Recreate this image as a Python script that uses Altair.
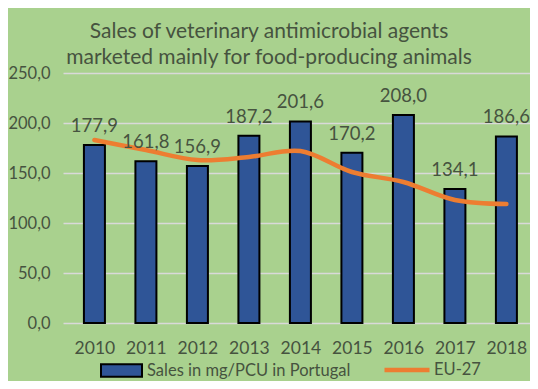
import altair as alt
import pandas as pd

years = [2010, 2011, 2012, 2013, 2014, 2015, 2016, 2017, 2018]
portugal = [177.9, 161.8, 156.9, 187.2, 201.6, 170.2, 208.0, 134.1, 186.6]
eu27 = [183, 173, 163, 166, 172, 151, 141, 123, 119]
y_ticks = [0, 50, 100, 150, 200, 250]
bar_name = "Sales in mg/PCU in Portugal"
line_name = "EU-27"
title_lines = ["Sales of veterinary antimicrobial agents",
               "marketed mainly for food-producing animals"]

TEXT = "#46533F"
FONT = "Lato"

df_bar = pd.DataFrame({"year": years, "value": portugal, "series": bar_name})
df_line = pd.DataFrame({"year": years, "value": eu27, "series": line_name})

xscale = alt.Scale(domain=[2009.487, 2018.361], nice=False, zero=False)
yscale = alt.Scale(domain=[0, 250], nice=False)

x_enc = alt.X("year:Q", scale=xscale,
              axis=alt.Axis(values=years, format="d", title=None, grid=False,
                            ticks=False, domain=False, labelPadding=16,
                            labelFontSize=17.5, labelFont=FONT, labelColor=TEXT))
y_enc = alt.Y("value:Q", scale=yscale,
              axis=alt.Axis(values=y_ticks, title=None, ticks=False, domain=False,
                            labelExpr="replace(format(datum.value, '.1f'), '.', ',')",
                            labelPadding=13, labelFontSize=16.5, labelFont=FONT,
                            labelColor=TEXT, gridColor="#D9D9D9", gridWidth=1.6))

bars = alt.Chart(df_bar).mark_bar(size=21, stroke="black", strokeWidth=2).encode(
    x=x_enc,
    y=y_enc,
    fill=alt.Fill("series:N",
                  scale=alt.Scale(domain=[bar_name], range=["#2F5597"]),
                  legend=alt.Legend(title=None, orient="none", legendX=37, legendY=276,
                                    symbolType="M-1,-0.3L1,-0.3L1,0.3L-1,0.3Z",
                                    symbolSize=1681, symbolStrokeColor="black",
                                    symbolStrokeWidth=2, labelOffset=4)),
)

line = alt.Chart(df_line).mark_line(strokeWidth=4.5, interpolate="catmull-rom",
                                    strokeCap="round").encode(
    x="year:Q",
    y="value:Q",
    stroke=alt.Stroke("series:N",
                      scale=alt.Scale(domain=[line_name], range=["#ED7D31"]),
                      legend=alt.Legend(title=None, orient="none", legendX=319, legendY=272,
                                        symbolType="stroke", symbolSize=2025,
                                        symbolStrokeWidth=4.5, labelOffset=2)),
)

labels = alt.Chart(df_bar).transform_calculate(
    label="replace(format(datum.value, '.1f'), '.', ',')"
).mark_text(baseline="middle", dy=-19, fontSize=18.5, font=FONT, color=TEXT).encode(
    x="year:Q",
    y="value:Q",
    text="label:N",
)

chart = alt.layer(bars, line, labels).resolve_scale(
    fill="independent", stroke="independent"
).properties(
    width=467,
    height=250,
    padding={"left": 55, "top": 65, "right": 0, "bottom": 58},
    autosize=alt.AutoSizeParams(type="none"),
    background="#A9D18E",
    title=alt.TitleParams(text=title_lines, fontSize=21, font=FONT, fontWeight="normal",
                          color=TEXT, anchor="middle", dx=-27.5, lineHeight=26,
                          baseline="bottom", offset=9, dy=33),
).configure_view(stroke=None).configure_legend(
    labelFont=FONT, labelFontSize=16.5, labelColor=TEXT, labelLimit=0
)

chart.save("out.html", embed_options={"renderer": "svg", "actions": False})
